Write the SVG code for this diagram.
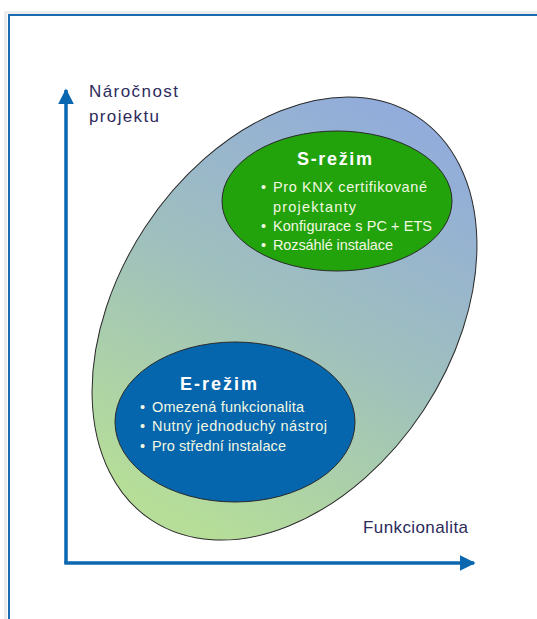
<svg xmlns="http://www.w3.org/2000/svg" width="537" height="619" viewBox="0 0 537 619">
  <defs>
    <linearGradient id="outerGrad" gradientUnits="userSpaceOnUse" x1="190" y1="525" x2="410" y2="120" gradientTransform="rotate(-33.4 284.5 318.5)">
      <stop offset="0" stop-color="#b6de98"/>
      <stop offset="0.5" stop-color="#9fc0bd"/>
      <stop offset="1" stop-color="#92acdb"/>
    </linearGradient>
    <marker id="arrow" viewBox="0 0 10 10" refX="9" refY="5" markerWidth="4.6" markerHeight="4.6" markerUnits="strokeWidth" orient="auto">
      <path d="M0,0 L10,5 L0,10 Z" fill="#0a67b0"/>
    </marker>
  </defs>
  <style>
    .axis { fill: none; stroke: #0a67b0; stroke-width: 3.5; }
    .axlabel { font-family: "Liberation Sans", Arial, sans-serif; font-size: 17px; fill: #2c2b5c; }
    .title { font-family: "Liberation Sans", Arial, sans-serif; font-size: 18px; font-weight: bold; fill: #ffffff; }
    .item { font-family: "Liberation Sans", Arial, sans-serif; font-size: 14.5px; fill: #f3f8e2; }
    .stroke { stroke: #2a2a2a; stroke-width: 1; }
  </style>
  <rect width="537" height="619" fill="#ffffff"/>
  <rect x="5.5" y="12.5" width="540" height="620" fill="none" stroke="#ececec" stroke-width="3"/>
  <rect x="9" y="15" width="540" height="620" fill="none" stroke="#1a6cb0" stroke-width="2"/>

  <g id="scope">
    <ellipse cx="284.5" cy="318.5" rx="166.6" ry="241.6" transform="rotate(33.4 284.5 318.5)" fill="url(#outerGrad)" class="stroke"/>
  </g>

  <g id="s-mode">
    <ellipse cx="337" cy="201" rx="115" ry="70" fill="#22a20b" class="stroke"/>
    <text class="title" x="297" y="165" textLength="75">S-režim</text>
    <text class="item" x="261" y="192">•</text>
    <text class="item" x="273" y="192" textLength="154">Pro KNX certifikované</text>
    <text class="item" x="273" y="212" textLength="83">projektanty</text>
    <text class="item" x="261" y="231">•</text>
    <text class="item" x="273" y="231" textLength="159">Konfigurace s PC + ETS</text>
    <text class="item" x="261" y="250">•</text>
    <text class="item" x="273" y="250" textLength="120">Rozsáhlé instalace</text>
  </g>

  <g id="e-mode">
    <ellipse cx="235" cy="422" rx="120" ry="80" fill="#0566ad" class="stroke"/>
    <text class="title" x="180" y="390" textLength="77">E-režim</text>
    <text class="item" x="140" y="412">•</text>
    <text class="item" x="152" y="412" textLength="152">Omezená funkcionalita</text>
    <text class="item" x="140" y="431">•</text>
    <text class="item" x="152" y="431" textLength="175">Nutný jednoduchý nástroj</text>
    <text class="item" x="140" y="451">•</text>
    <text class="item" x="152" y="451" textLength="134">Pro střední instalace</text>
  </g>

  <g id="axis-labels">
    <text class="axlabel" x="89" y="97" textLength="89">Náročnost</text>
    <text class="axlabel" x="89" y="122" textLength="70">projektu</text>
    <text class="axlabel" x="363" y="533" textLength="105">Funkcionalita</text>
  </g>

  <g id="connectors">
    <path class="axis" d="M66,563 L66,90" marker-end="url(#arrow)"/>
    <path class="axis" d="M64.25,563 L474,563" marker-end="url(#arrow)"/>
  </g>
</svg>
